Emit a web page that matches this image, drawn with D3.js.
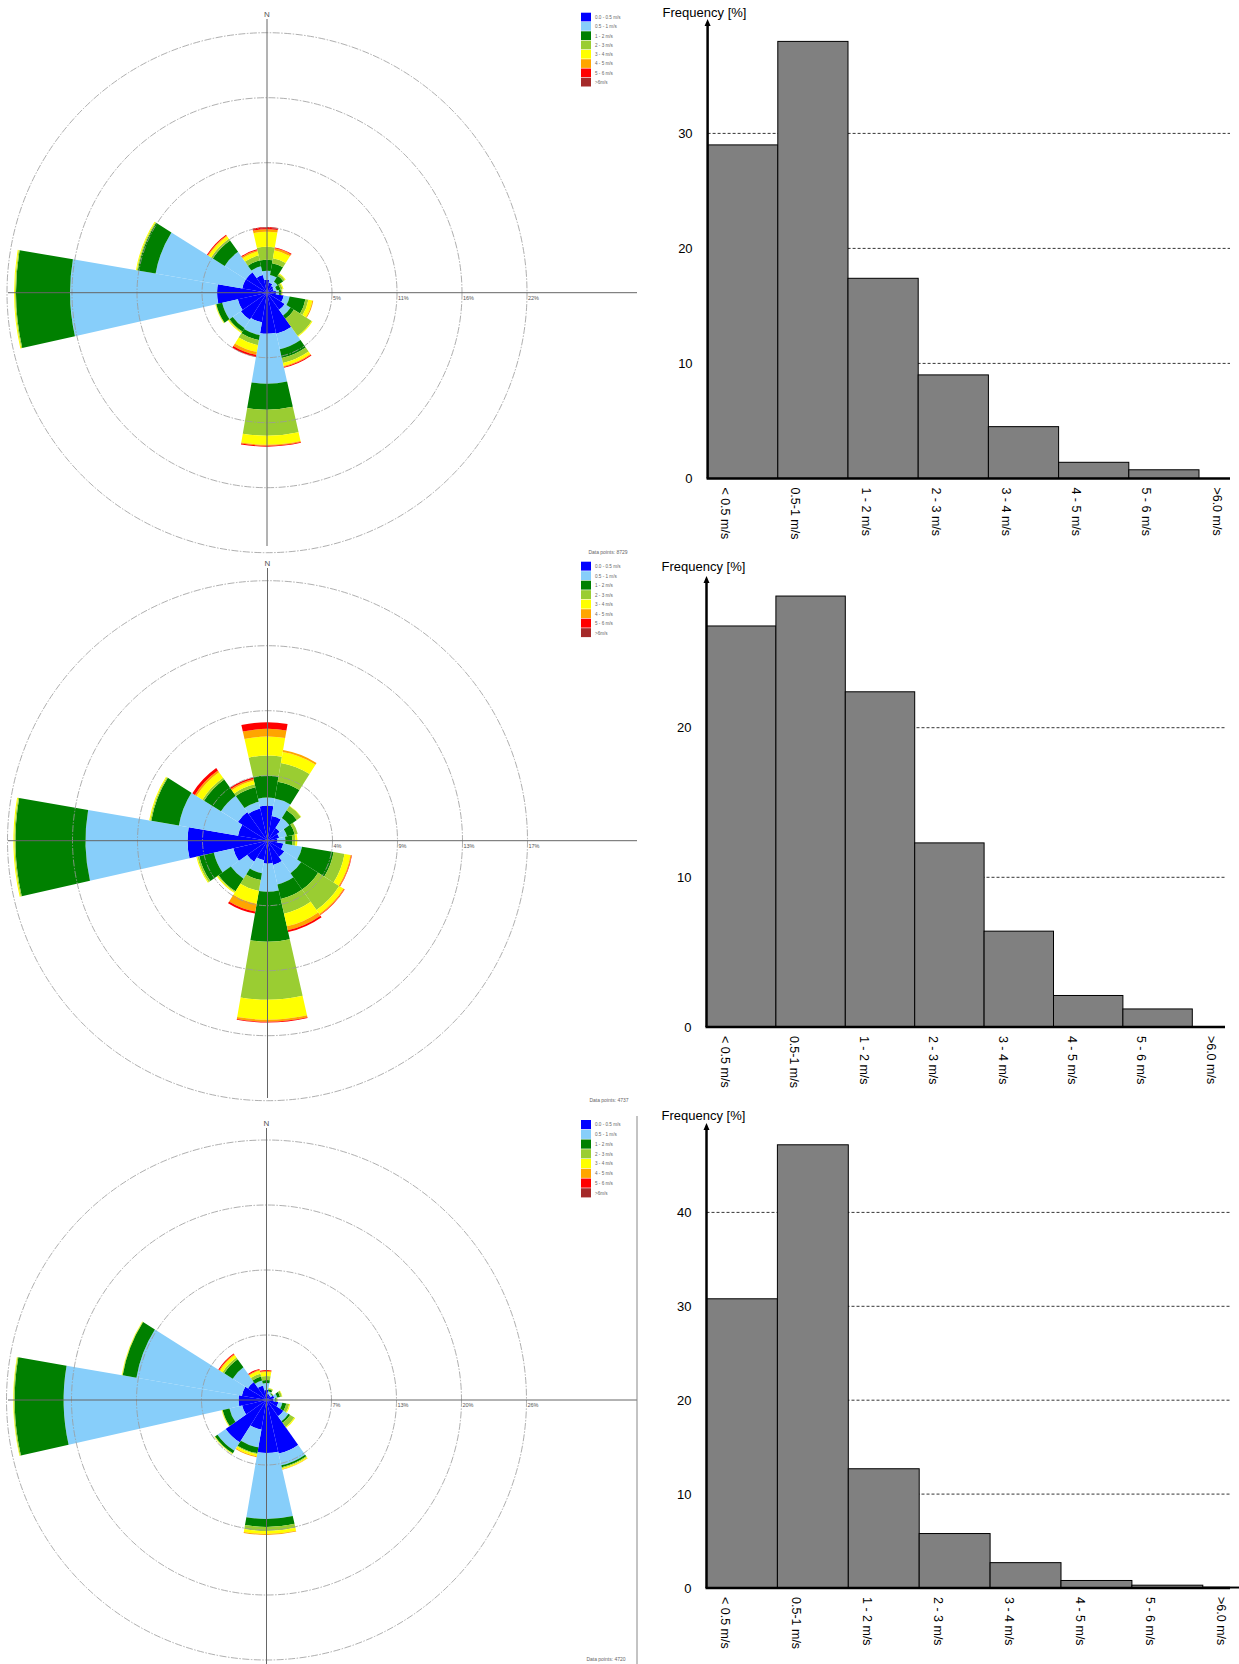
<!DOCTYPE html>
<html>
<head>
<meta charset="utf-8">
<script src="https://cdn.jsdelivr.net/npm/d3@7/dist/d3.min.js"></script>
<style>
  body { margin: 0; background: #fff; }
  text { font-family: "Liberation Sans", Arial, sans-serif; }
</style>
</head>
<body>
<svg id="chart"></svg>
<script>
// wind roses + speed histograms, three stations

var directions = ["N","NNE","NE","ENE","E","ESE","SE","SSE","S","SSW","SW","WSW","W","WNW","NW","NNW"];
var speedClasses = ["0.0 - 0.5 m/s","0.5 - 1 m/s","1 - 2 m/s","2 - 3 m/s","3 - 4 m/s","4 - 5 m/s","5 - 6 m/s",">6m/s"];
var speedColors = ["#0000ff","#87cefa","#008000","#9acd32","#ffff00","#ffa500","#ff0000","#a52a2a"];

// frequency [%] per direction (rows) and speed class (columns)
var rose1 = [
  [1.08,0.75,0.91,1.08,1.25,0.21,0.17,0],
  [0.83,0.66,1.00,0.42,0.66,0.17,0.08,0],
  [0.66,0.42,0.58,0.17,0.08,0,0,0],
  [0.58,0.25,0.33,0.17,0.08,0,0,0],
  [0.75,0.25,0.17,0.08,0.04,0,0,0],
  [1.41,0.50,1.33,0.25,0.33,0.08,0,0],
  [1.74,0.58,0.33,1.74,0.08,0,0,0],
  [3.49,1.33,0.75,0.42,0.25,0.08,0.08,0],
  [3.41,4.15,2.16,2.16,0.75,0.08,0.08,0],
  [2.49,1.08,0.42,0.42,0.58,0.25,0.17,0],
  [2.66,0.83,0.33,0.08,0.08,0,0,0],
  [2.49,1.33,0.50,0.04,0.04,0,0,0],
  [4.15,12.21,4.49,0.08,0.08,0,0,0],
  [2.08,7.31,1.50,0.08,0.08,0,0,0],
  [2.08,2.08,1.16,0.17,0.25,0.08,0.08,0],
  [1.50,0.75,0.50,0.42,0.33,0.12,0.08,0]
];
var rose2 = [
  [2.32,0.53,1.46,1.32,1.26,0.51,0.44,0],
  [1.65,1.19,1.12,1.26,0.73,0.13,0,0],
  [0.99,0.79,0.60,0.33,0.03,0,0,0],
  [0.79,0.53,0.53,0.20,0,0,0,0],
  [0.66,0.53,0.46,0.20,0.13,0,0,0],
  [1.06,1.26,2.12,0.73,0.40,0.07,0.03,0],
  [1.32,1.32,1.32,1.65,0.33,0.07,0.03,0],
  [1.65,1.32,0.99,0.99,0.86,0.26,0.13,0],
  [1.52,1.85,3.31,3.84,1.32,0.13,0.05,0],
  [1.32,0.86,0.46,0.73,0.86,0.53,0.13,0],
  [1.65,1.32,0.99,0.07,0.07,0,0,0],
  [2.32,1.32,0.99,0.13,0.07,0,0,0],
  [5.29,6.75,4.63,0.07,0.07,0,0,0],
  [1.98,3.97,1.85,0.07,0.07,0,0,0],
  [2.32,1.32,1.32,0.13,0.46,0.13,0.20,0],
  [2.18,0.46,0.99,0.20,0.26,0.10,0.10,0]
];
var rose3 = [
  [1.02,0.71,0.30,0.41,0.41,0.10,0.10,0],
  [0.61,0.30,0.20,0.10,0.05,0,0,0],
  [0.51,0.20,0.10,0.05,0,0,0,0],
  [0.81,0.30,0.30,0.20,0.05,0,0,0],
  [0.71,0.20,0.10,0.10,0,0,0,0],
  [1.22,0.41,0.41,0.30,0.10,0,0,0],
  [2.03,0.61,0.20,0.51,0.10,0,0,0],
  [5.58,1.22,0.20,0.10,0.10,0.05,0,0],
  [5.38,6.70,0.81,0.41,0.30,0.10,0,0],
  [3.05,1.83,0.61,0.10,0.20,0.10,0,0],
  [5.08,1.02,0.30,0.05,0.05,0,0,0],
  [2.54,1.32,0.71,0.05,0.05,0,0,0],
  [2.84,17.76,4.97,0.10,0.05,0,0,0],
  [2.54,10.86,1.42,0.05,0.05,0,0,0],
  [2.23,1.83,1.02,0.20,0.30,0.10,0.10,0],
  [1.52,0.51,0.41,0.30,0.30,0.10,0.10,0]
];
var rose1Rings = [5.4, 10.8, 16.2, 21.6];
var rose2Rings = [4.3, 8.6, 12.9, 17.2];
var rose3Rings = [6.6, 13.2, 19.8, 26.4];

var histCats = ["< 0.5 m/s","0.5-1 m/s","1 - 2 m/s","2 - 3 m/s","3 - 4 m/s","4 - 5 m/s","5 - 6 m/s",">6.0 m/s"];
var hist1 = [29.0, 38.0, 17.4, 9.0, 4.5, 1.4, 0.75, 0];
var hist2 = [26.8, 28.8, 22.4, 12.3, 6.4, 2.1, 1.2, 0];
var hist3 = [30.8, 47.2, 12.7, 5.8, 2.7, 0.8, 0.3, 0.1];
var hist1Ticks = [0, 10, 20, 30];
var hist2Ticks = [0, 10, 20];
var hist3Ticks = [0, 10, 20, 30, 40];

var width = 1239, height = 1664;
var svg = d3.select("#chart").attr("width", width).attr("height", height);
svg.append("rect").attr("width", width).attr("height", height).attr("fill", "#fff");

var ringPx = 65;
var sectorOffset = -1.5 * Math.PI / 180;

function drawRose(data, rings, cx, cy, axisTop, axisBottom, legendY, legendStep) {
  var g = svg.append("g").attr("transform", "translate(" + cx + "," + cy + ")");
  var r = d3.scaleLinear().domain([0, rings[0]]).range([0, ringPx]);
  var a = d3.scaleLinear().domain([0, directions.length]).range([0, 2 * Math.PI]);
  var half = Math.PI / directions.length;

  var stack = d3.stack()
    .keys(d3.range(speedClasses.length))
    .value(function(d, k) { return d[k]; });
  var series = stack(data);

  var arc = d3.arc()
    .innerRadius(function(d) { return r(d[0]); })
    .outerRadius(function(d) { return r(d[1]); })
    .startAngle(function(d) { return a(d.i) - half + sectorOffset; })
    .endAngle(function(d) { return a(d.i) + half + sectorOffset; });

  series.forEach(function(s, k) {
    var pts = s.map(function(d, i) { var o = [d[0], d[1]]; o.i = i; return o; })
      .filter(function(d) { return d[1] > d[0]; });
    g.selectAll(null).data(pts).enter().append("path")
      .attr("d", arc)
      .attr("fill", speedColors[k]);
  });

  // rings
  g.selectAll(null).data(rings).enter().append("circle")
    .attr("r", function(d) { return r(d); })
    .attr("fill", "none")
    .attr("stroke", "#9a9a9a")
    .attr("stroke-width", 0.8)
    .attr("stroke-dasharray", "7,1.5,1.5,1.5");

  g.selectAll(null).data(rings).enter().append("text")
    .attr("x", function(d) { return r(d) + 1; })
    .attr("y", 7)
    .attr("font-size", 5.5)
    .attr("fill", "#555")
    .text(function(d) { return Math.round(d) + "%"; });

  // axes
  g.append("line").attr("x1", 8 - cx).attr("x2", 637 - cx).attr("y1", 0).attr("y2", 0)
    .attr("stroke", "#666").attr("stroke-width", 1);
  g.append("line").attr("x1", 0).attr("x2", 0).attr("y1", axisTop - cy).attr("y2", axisBottom - cy)
    .attr("stroke", "#666").attr("stroke-width", 1);
  g.append("text").attr("x", 0).attr("y", axisTop - cy - 2)
    .attr("text-anchor", "middle").attr("font-size", 8).attr("fill", "#555").text("N");

  // legend
  var lg = svg.append("g").attr("transform", "translate(581," + legendY + ")");
  var rows = lg.selectAll(null).data(speedClasses).enter().append("g")
    .attr("transform", function(d, i) { return "translate(0," + i * legendStep + ")"; });
  rows.append("rect").attr("width", 10).attr("height", legendStep - 0.6)
    .attr("fill", function(d, i) { return speedColors[i]; });
  rows.append("text").attr("x", 14).attr("y", legendStep / 2 + 1.6)
    .attr("font-size", 4.6).attr("fill", "#666").text(function(d) { return d; });
}

drawRose(rose1, rose1Rings, 267, 292.7, 19, 546, 12.7, 9.3);
drawRose(rose2, rose2Rings, 267.5, 840.7, 568, 1098, 561.7, 9.5);
drawRose(rose3, rose3Rings, 266.5, 1400, 1128, 1664, 1120, 9.75);

// small notes and divider
svg.append("text").attr("x", 608).attr("y", 554).attr("text-anchor", "middle")
  .attr("font-size", 5).attr("fill", "#666").text("Data points: 8729");
svg.append("text").attr("x", 609).attr("y", 1102).attr("text-anchor", "middle")
  .attr("font-size", 5).attr("fill", "#666").text("Data points: 4737");
svg.append("text").attr("x", 606).attr("y", 1661).attr("text-anchor", "middle")
  .attr("font-size", 5).attr("fill", "#666").text("Data points: 4720");
svg.append("line").attr("x1", 637).attr("x2", 637).attr("y1", 1116).attr("y2", 1664)
  .attr("stroke", "#888").attr("stroke-width", 1);

function drawHist(values, ticks, x0, bw, y0, unitPx, tipY, titleY, xEnd, labelOff) {
  var g = svg.append("g");
  var x = d3.scaleBand().domain(histCats).range([x0, x0 + bw * histCats.length]);
  var y = d3.scaleLinear().domain([0, 10]).range([y0, y0 - 10 * unitPx]);

  // gridlines
  g.selectAll(null).data(ticks.filter(function(t) { return t > 0; })).enter().append("line")
    .attr("x1", x0).attr("x2", xEnd)
    .attr("y1", function(d) { return y(d); }).attr("y2", function(d) { return y(d); })
    .attr("stroke", "#000").attr("stroke-width", 0.8).attr("stroke-dasharray", "3,2");

  g.selectAll(null).data(values).enter().append("rect")
    .attr("x", function(d, i) { return x(histCats[i]); })
    .attr("y", function(d) { return y(d); })
    .attr("width", x.bandwidth())
    .attr("height", function(d) { return y0 - y(d); })
    .attr("fill", "#808080")
    .attr("stroke", "#000")
    .attr("stroke-width", 1);

  var yAxis = d3.axisLeft(y).tickValues(ticks).tickSize(0).tickPadding(15)
    .tickFormat(d3.format("d"));
  var ag = g.append("g").attr("transform", "translate(" + x0 + ",0)").call(yAxis);
  ag.select(".domain").remove();
  ag.selectAll("text").attr("font-size", 13).attr("fill", "#000")
    .attr("font-family", "'Liberation Sans', Arial, sans-serif");

  // baseline and y axis with arrow
  g.append("line").attr("x1", x0 - 1).attr("x2", xEnd).attr("y1", y0).attr("y2", y0)
    .attr("stroke", "#000").attr("stroke-width", 2.5);
  g.append("line").attr("x1", x0).attr("x2", x0).attr("y1", y0).attr("y2", tipY + 5)
    .attr("stroke", "#000").attr("stroke-width", 2.5);
  g.append("path")
    .attr("d", "M" + (x0 - 3) + "," + (tipY + 7) + "L" + x0 + "," + tipY + "L" + (x0 + 3) + "," + (tipY + 7) + "Z")
    .attr("fill", "#000");

  g.append("text").attr("x", x0 - 45).attr("y", titleY)
    .attr("font-size", 13).attr("fill", "#000").text("Frequency [%]");

  g.selectAll(null).data(histCats).enter().append("text")
    .attr("transform", function(d) { return "translate(" + (x(d) + labelOff) + "," + (y0 + 9) + ") rotate(90)"; })
    .attr("dominant-baseline", "central")
    .attr("font-size", 12.5).attr("fill", "#000")
    .text(function(d) { return d; });
}

drawHist(hist1, hist1Ticks, 707.6, 70.2, 478.4, 11.5, 19, 17, 1230, 17.5);
drawHist(hist2, hist2Ticks, 706.5, 69.4, 1026.9, 14.96, 576, 571, 1225, 18.5);
drawHist(hist3, hist3Ticks, 706.5, 70.9, 1588, 9.39, 1123, 1120, 1230, 18.5);
</script>
</body>
</html>
